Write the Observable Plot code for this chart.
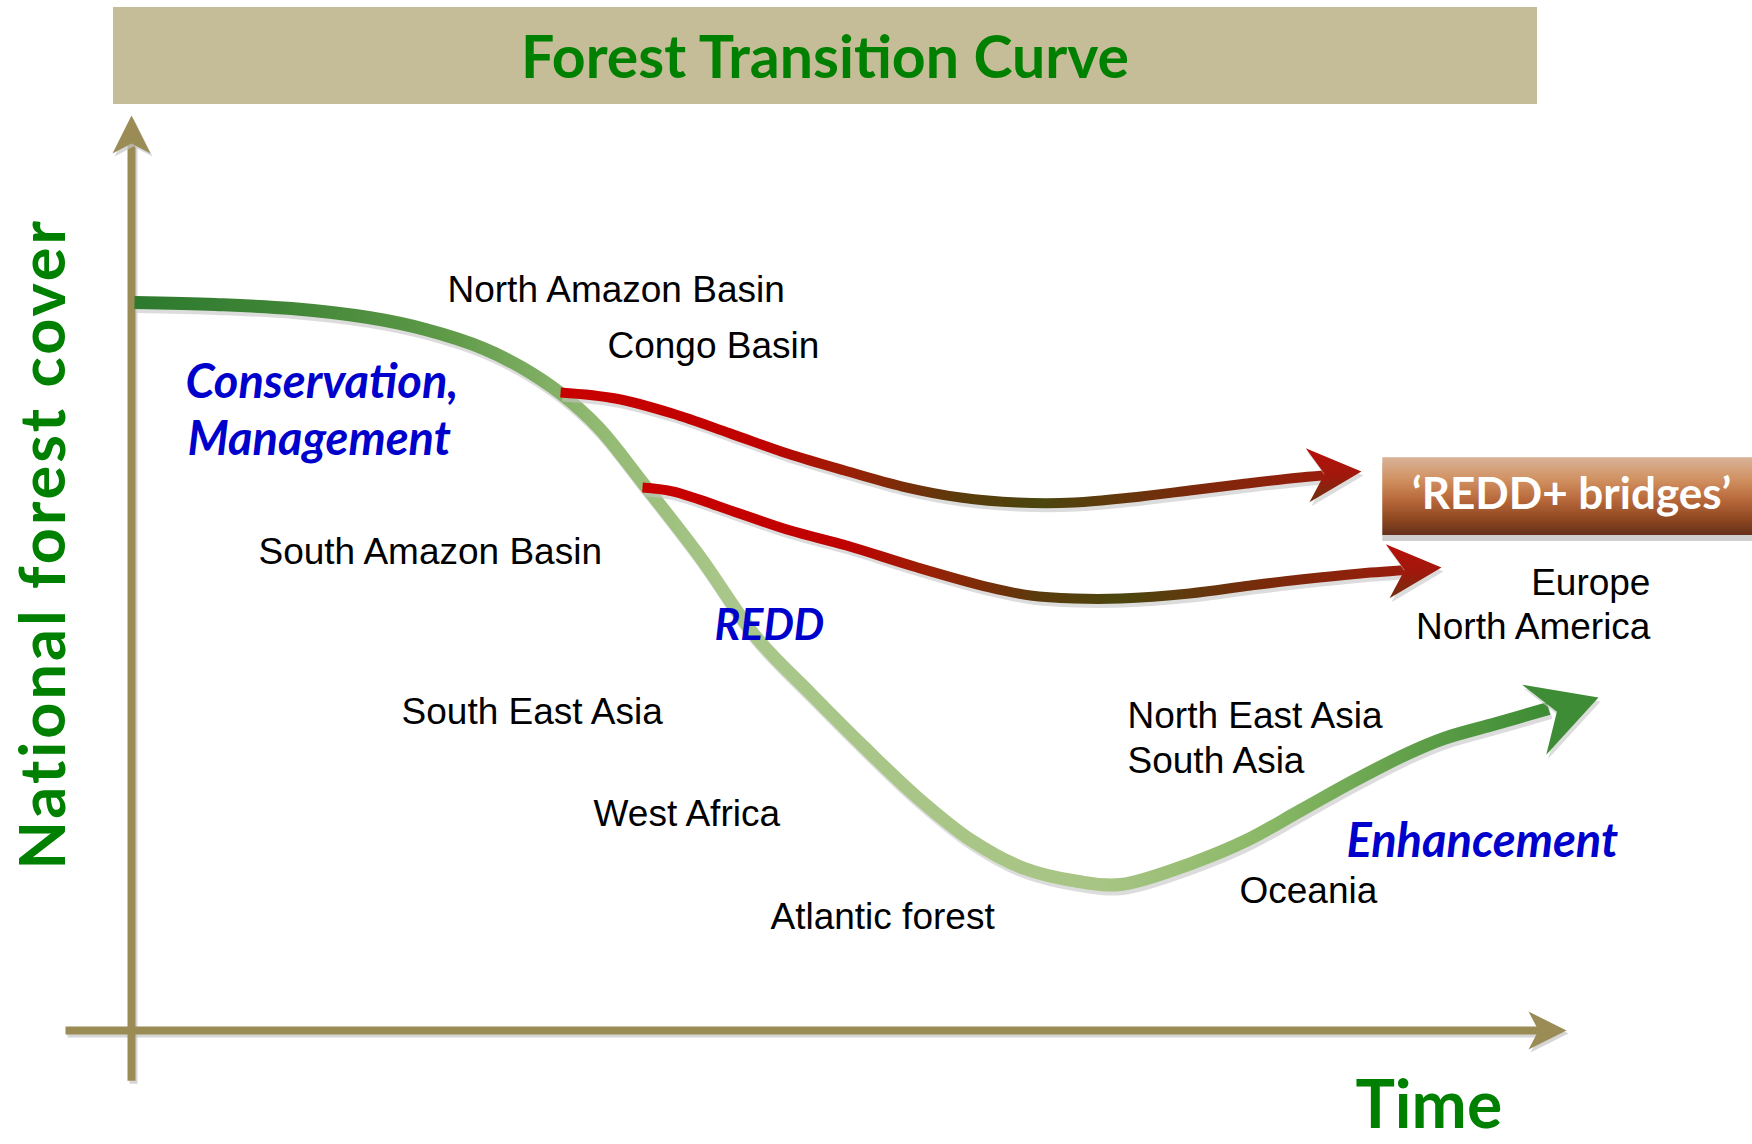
<!DOCTYPE html>
<html>
<head>
<meta charset="utf-8">
<script src="https://cdn.jsdelivr.net/npm/d3@7"></script>
<script src="https://cdn.jsdelivr.net/npm/@observablehq/plot@0.6"></script>
<style>
  html, body { margin: 0; padding: 0; background: #fff; }
  #page { position: relative; width: 1752px; height: 1144px; overflow: hidden; background: #fff; }
  #banner { position: absolute; left: 113px; top: 7px; width: 1424px; height: 97px; background: #C5BC98;
            display: flex; align-items: center; justify-content: center;
            font-family: Lato, "Open Sans", sans-serif; font-weight: 700; font-size: 59px; color: #008000; }
  #chart { position: absolute; left: 0; top: 104px; }
</style>
</head>
<body>
<div id="page">
  <div id="banner">Forest Transition Curve</div>
  <div id="chart"></div>
</div>
<script>
// ---- Data (time: 0..100 along the time axis, cover: 0..100 along the cover axis) ----
const curveTime  = [0.21, 5.85, 11.15, 16.52, 20.49, 24.53, 27.18, 29.90, 32.54, 35.61, 39.65, 43.55, 47.32, 51.08, 54.77, 58.54, 62.23, 65.99, 68.92, 74.01, 77.70, 81.46, 85.23, 88.92, 91.43, 95.12, 98.75];
const curveCover = [79.56, 79.34, 78.91, 77.92, 76.61, 74.54, 72.46, 69.62, 65.90, 59.89, 51.69, 42.95, 36.83, 30.93, 25.46, 20.77, 17.70, 16.28, 15.96, 18.36, 20.77, 24.04, 27.32, 30.27, 31.91, 33.55, 35.19];

const bridge1Time  = [29.90, 33.73, 37.70, 41.74, 45.71, 49.69, 53.73, 57.77, 61.74, 65.71, 69.69, 73.73, 77.70, 81.46, 83.90];
const bridge1Cover = [69.73, 69.07, 67.43, 65.25, 63.06, 61.20, 59.45, 58.25, 57.70, 57.70, 58.25, 59.02, 59.78, 60.44, 60.77];

const bridge2Time  = [35.61, 37.70, 42.37, 45.92, 49.83, 54.77, 59.79, 62.65, 65.71, 68.92, 73.73, 77.98, 81.46, 85.64, 89.34];
const bridge2Cover = [59.34, 58.91, 56.50, 54.64, 53.00, 50.60, 48.42, 47.54, 47.21, 47.21, 47.76, 48.63, 49.29, 49.95, 50.38];

const axes = [
  {axis: "Time", x1: -4.6, y1: 0, x2: 98.3, y2: 0},
  {axis: "National forest cover", x1: 0, y1: -5.5, x2: 0, y2: 97.4}
];
const arrowTips = [
  {kind: "axis",   time: 100,    cover: 0,     angle: 0},
  {kind: "axis",   time: 0,      cover: 100,   angle: -90},
  {kind: "bridge", time: 85.71,  cover: 61.09, angle: -4},
  {kind: "bridge", time: 91.29,  cover: 50.60, angle: -4},
  {kind: "curve",  time: 102.23, cover: 36.39, angle: -19}
];

const regionLabels = [
  {label: "North Amazon Basin", time: 22.02, cover: 79.67},
  {label: "Congo Basin",        time: 33.17, cover: 73.55},
  {label: "South Amazon Basin", time: 8.85,  cover: 50.93},
  {label: "South East Asia",    time: 18.82, cover: 33.55},
  {label: "West Africa",        time: 32.20, cover: 22.40},
  {label: "Atlantic forest",    time: 44.53, cover: 11.04},
  {label: "North East Asia",    time: 69.41, cover: 33.01},
  {label: "South Asia",         time: 69.41, cover: 28.09},
  {label: "Oceania",            time: 77.21, cover: 13.88}
];
const rightLabels = [
  {label: "Europe",        time: 105.85, cover: 47.65},
  {label: "North America", time: 105.85, cover: 42.84}
];
const phaseLabels = [
  {label: "Conservation,", time: 3.76,  cover: 69.18},
  {label: "Management",    time: 3.90,  cover: 62.95},
  {label: "Enhancement",   time: 84.67, cover: 18.91}
];
const reddLabel = [{label: "REDD", time: 40.63, cover: 42.73}];
const timeTitle = [{label: "Time", time: 85.3, cover: -10.7}];
const coverTitle = [{label: "National forest cover", time: -4.6, cover: 53.2}];
const bridgeBox = [{label: "\u2018REDD+ bridges\u2019", x1: 87.2, x2: 113.1, y1: 54.1, y2: 62.6, tx: 100.35, ty: 56.94}];

// ---- build series ----
const transition = curveTime.map((t, i) => ({time: t, cover: curveCover[i]}));
const bridge1 = bridge1Time.map((t, i) => ({time: t, cover: bridge1Cover[i]}));
const bridge2 = bridge2Time.map((t, i) => ({time: t, cover: bridge2Cover[i]}));

function stealth(len, half, notch) {
  return {draw(ctx) {
    ctx.moveTo(0, 0);
    ctx.lineTo(-len, -half);
    ctx.lineTo(-len + notch, 0);
    ctx.lineTo(-len, half);
    ctx.closePath();
  }};
}
const axisHead = stealth(38, 19, 10);
const bridgeHead = stealth(54, 27, 17);
const curveHead = stealth(68, 37, 24);

const axisColor = "#9B8C55";
const shadow = "#c4c4c4";
const LABEL_FONT = "'Liberation Sans', Arial, sans-serif";
const CAL = "Lato, 'Open Sans', sans-serif";

const lineOpts = {x: "time", y: "cover", curve: "catmull-rom", strokeLinecap: "butt", strokeLinejoin: "round"};
const blueOpts = {x: "time", y: "cover", text: "label", textAnchor: "start", lineAnchor: "bottom", fill: "#0000CC", fontFamily: CAL, fontWeight: 700, fontStyle: "italic"};

const svg = Plot.plot({
  width: 1752,
  height: 1040,
  marginLeft: 131, marginRight: 186, marginTop: 11, marginBottom: 114,
  x: {domain: [0, 100], axis: null},
  y: {domain: [0, 100], axis: null},
  style: {background: "transparent", overflow: "visible"},
  marks: [
    // axes
    Plot.link(axes, {x1: "x1", y1: "y1", x2: "x2", y2: "y2", stroke: shadow, strokeWidth: 8, dx: 2, dy: 3, strokeOpacity: 0.7}),
    Plot.link(axes, {x1: "x1", y1: "y1", x2: "x2", y2: "y2", stroke: axisColor, strokeWidth: 8}),
    Plot.dot(arrowTips.filter(d => d.kind === "axis"), {x: "time", y: "cover", rotate: "angle", symbol: axisHead, fill: shadow, stroke: "none", dx: 2, dy: 3, fillOpacity: 0.7}),
    Plot.dot(arrowTips.filter(d => d.kind === "axis"), {x: "time", y: "cover", rotate: "angle", symbol: axisHead, fill: axisColor, stroke: "none"}),

    // forest transition curve
    Plot.line(transition, {...lineOpts, stroke: shadow, strokeWidth: 13, dx: 2, dy: 4, strokeOpacity: 0.6}),
    Plot.line(transition, {...lineOpts, stroke: "url(#greenGrad)", strokeWidth: 13}),
    Plot.dot(arrowTips.filter(d => d.kind === "curve"), {x: "time", y: "cover", rotate: "angle", symbol: curveHead, fill: shadow, stroke: "none", dx: 2, dy: 4, fillOpacity: 0.6}),
    Plot.dot(arrowTips.filter(d => d.kind === "curve"), {x: "time", y: "cover", rotate: "angle", symbol: curveHead, fill: "#3E8C35", stroke: "none"}),

    // REDD+ bridges
    Plot.line(bridge1, {...lineOpts, stroke: shadow, strokeWidth: 10, dx: 2, dy: 4, strokeOpacity: 0.6}),
    Plot.line(bridge2, {...lineOpts, stroke: shadow, strokeWidth: 10, dx: 2, dy: 4, strokeOpacity: 0.6}),
    Plot.line(bridge1, {...lineOpts, stroke: "url(#redGrad)", strokeWidth: 10}),
    Plot.line(bridge2, {...lineOpts, stroke: "url(#redGrad)", strokeWidth: 10}),
    Plot.dot(arrowTips.filter(d => d.kind === "bridge"), {x: "time", y: "cover", rotate: "angle", symbol: bridgeHead, fill: shadow, stroke: "none", dx: 2, dy: 4, fillOpacity: 0.6}),
    Plot.dot(arrowTips.filter(d => d.kind === "bridge"), {x: "time", y: "cover", rotate: "angle", symbol: bridgeHead, fill: "url(#headGrad)", stroke: "none"}),

    // bridges box
    Plot.rect(bridgeBox, {x1: "x1", x2: "x2", y1: "y1", y2: "y2", fill: "#cfcfcf", dy: 6}),
    Plot.rect(bridgeBox, {x1: "x1", x2: "x2", y1: "y1", y2: "y2", fill: "url(#brownGrad)"}),
    Plot.text(bridgeBox, {x: "tx", y: "ty", text: "label", textAnchor: "middle", lineAnchor: "bottom", fill: "#fff", fontFamily: CAL, fontWeight: 700, fontSize: 44}),

    // labels
    Plot.text(regionLabels, {x: "time", y: "cover", text: "label", textAnchor: "start", lineAnchor: "bottom", fill: "#000", fontFamily: LABEL_FONT, fontSize: 37}),
    Plot.text(rightLabels, {x: "time", y: "cover", text: "label", textAnchor: "end", lineAnchor: "bottom", fill: "#000", fontFamily: LABEL_FONT, fontSize: 37}),
    Plot.text(phaseLabels, {...blueOpts, fontSize: 47}),
    Plot.text(reddLabel, {...blueOpts, fontSize: 43}),
    Plot.text(timeTitle, {x: "time", y: "cover", text: "label", textAnchor: "start", lineAnchor: "bottom", fill: "#008000", fontFamily: CAL, fontWeight: 700, fontSize: 66}),
    Plot.text(coverTitle, {x: "time", y: "cover", text: "label", rotate: -90, textAnchor: "middle", lineAnchor: "bottom", fill: "#008000", fontFamily: CAL, fontWeight: 700, fontSize: 63})
  ]
});

// gradients
const defs = d3.select(svg).insert("defs", ":first-child");
function grad(id, stops, vertical) {
  const g = defs.append("linearGradient").attr("id", id)
    .attr("x1", 0).attr("y1", 0).attr("x2", vertical ? 0 : 1).attr("y2", vertical ? 1 : 0);
  stops.forEach(([o, c]) => g.append("stop").attr("offset", o).attr("stop-color", c));
}
grad("greenGrad", [[0, "#2C7A2E"], [0.1, "#3F8436"], [0.22, "#5E9A48"], [0.33, "#93BA73"], [0.42, "#A9C78A"], [0.68, "#A8C585"], [0.8, "#8AB866"], [0.9, "#62A04A"], [1, "#3C8C34"]]);
grad("redGrad", [[0, "#C80000"], [0.26, "#C00000"], [0.37, "#9A2006"], [0.51, "#5B3A0C"], [0.62, "#4B460E"], [0.81, "#7A2A0B"], [1, "#9C1C0C"]]);
grad("headGrad", [[0, "#B8100A"], [0.55, "#A0180C"], [1, "#6E3010"]], true);
grad("brownGrad", [[0, "#D9B398"], [0.3, "#D08F5F"], [0.55, "#B8683A"], [0.8, "#8E4720"], [1, "#64301A"]], true);

// stretch the vertical axis title to the reference length
d3.select(svg).selectAll("text").filter(function() { return this.textContent === "National forest cover"; })
  .style("letter-spacing", "3px");

document.getElementById("chart").appendChild(svg);
</script>
</body>
</html>
